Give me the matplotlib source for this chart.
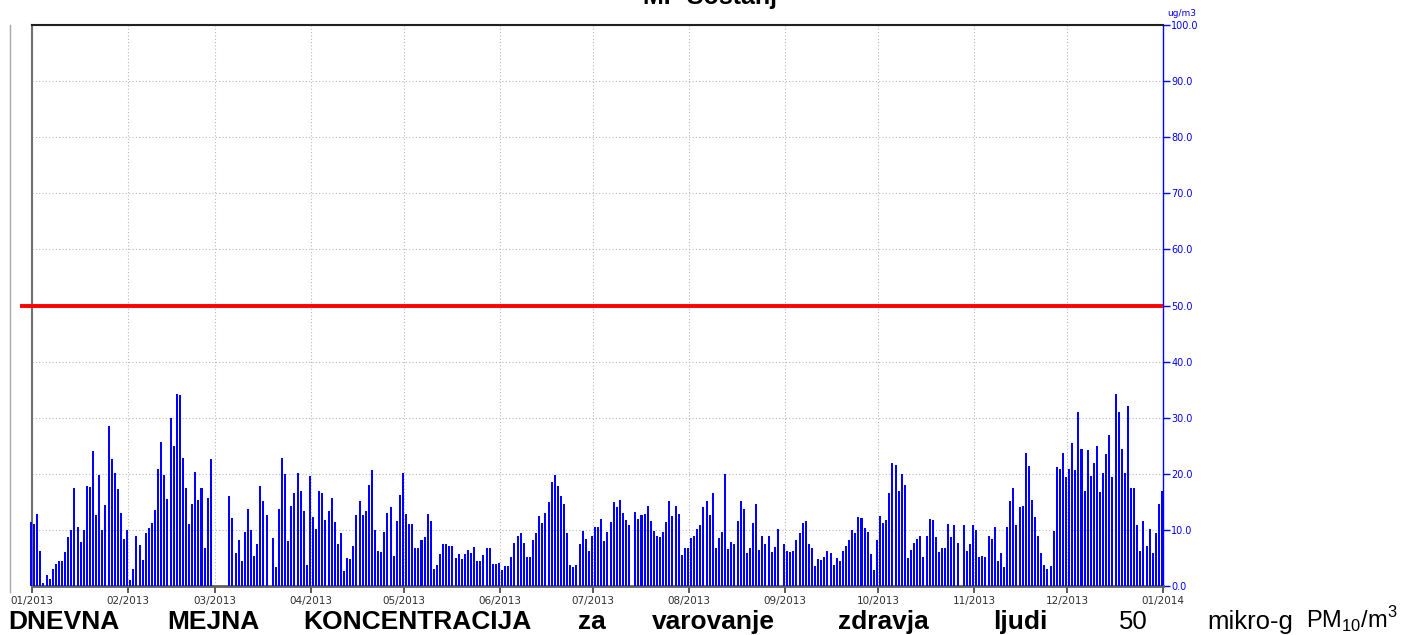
import numpy as np
import matplotlib
matplotlib.use("Agg")
import matplotlib.pyplot as plt
from matplotlib.lines import Line2D

plt.rcParams["mathtext.fontset"] = "custom"
plt.rcParams["mathtext.rm"] = "Liberation Sans"

# ---------------- data ----------------
title = "MP Šoštanj"
unit = "ug/m3"
limit_value = 50
month_labels = ["01/2013", "02/2013", "03/2013", "04/2013", "05/2013", "06/2013",
                "07/2013", "08/2013", "09/2013", "10/2013", "11/2013", "12/2013", "01/2014"]
month_starts = [0, 31, 59, 90, 120, 151, 181, 212, 243, 273, 304, 334, 365]
y_ticks = [0, 10, 20, 30, 40, 50, 60, 70, 80, 90, 100]

jan = [11.4, 11.1, 12.8, 6.3, 0.6, 2.0, 1.2, 3.0, 4.0, 4.5, 4.5, 6.0, 8.7, 10.0, 17.5, 10.5,
       7.8, 10.0, 17.8, 17.7, 24.1, 12.6, 19.7, 9.9, 14.4, 28.6, 22.6, 20.2, 17.3, 13.1, 8.4]
feb = [10.0, 1.0, 3.0, 8.9, 7.3, 4.7, 9.4, 10.4, 11.3, 13.6, 20.8, 25.7, 19.7, 15.5, 29.9,
       25.0, 34.2, 34.0, 22.8, 17.5, 11.1, 14.7, 20.4, 15.3, 17.4, 6.7, 15.7, 22.6]
mar = [None, None, None, None, None, 16.0, 12.2, 5.8, 8.2, 4.5, 9.6, 13.7, 9.9, 5.3, 7.4,
       17.9, 15.1, 12.6, None, 8.5, 3.3, 13.8, 22.9, 19.9, 8.0, 14.3, 16.5, 20.1, 17.0, 13.3, 3.7]
apr = [19.6, 12.3, 10.2, 17.0, 16.5, 11.8, 13.3, 15.6, 11.4, 7.5, 9.4, 2.6, 5.0, 4.8, 7.2,
       12.6, 15.1, 12.6, 13.3, 18.0, 20.6, 9.9, 6.3, 6.0, 9.6, 13.0, 14.1, 5.3, 11.6, 16.2]
may = [20.1, 12.8, 11.1, 11.1, 6.7, 6.8, 8.2, 8.7, 12.8, 11.6, 3.1, 3.8, 5.7, 7.4, 7.5, 7.2,
       7.2, 5.0, 5.7, 4.8, 5.7, 6.5, 5.8, 7.0, 4.5, 4.5, 5.5, 6.7, 6.7, 4.0, 4.0]
jun = [4.1, 2.9, 3.5, 3.5, 5.1, 7.7, 8.9, 9.4, 7.7, 5.1, 5.1, 8.2, 9.4, 12.5, 11.3, 13.1,
       14.9, 18.6, 19.7, 17.9, 16.0, 14.7, 9.4, 3.8, 3.3, 3.8, 7.4, 9.8, 8.4, 6.3]
jul = [9.0, 10.6, 10.6, 11.9, 8.0, 9.6, 11.4, 15.0, 14.1, 15.3, 13.0, 11.8, 10.8, None, 13.2,
       11.9, 12.6, 12.8, 14.3, 11.6, 9.8, 9.0, 8.7, 9.6, 11.4, 15.1, 12.5, 14.3, 12.8, 5.5, 6.7]
aug = [6.7, 8.6, 8.9, 10.1, 10.9, 14.1, 15.1, 12.6, 16.6, 6.8, 8.6, 9.6, 19.9, 6.6, 7.8, 7.5,
       11.6, 15.1, 13.7, 5.8, 6.7, 11.3, 14.7, 6.5, 8.9, 7.4, 9.0, 6.0, 6.9, 10.1, None]
sep = [7.4, 6.2, 6.0, 6.2, 8.2, 9.4, 11.3, 11.6, 7.5, 6.8, 3.5, 4.8, 4.6, 5.1, 6.3, 5.8, 3.7,
       5.0, 4.5, 6.3, 7.2, 8.2, 9.9, 9.4, 12.3, 12.1, 10.4, 9.6, 5.7, 2.8]
oct_ = [8.2, 12.5, 11.3, 11.8, 16.6, 22.0, 21.6, 17.0, 19.9, 18.0, 5.0, 6.5, 7.7, 8.4, 8.9,
        5.1, 9.0, 11.9, 11.8, 8.7, 6.0, 6.8, 6.8, 11.1, 8.7, 10.9, 7.7, None, 10.9, 6.2, 7.5]
nov = [10.8, 9.9, 5.1, 5.3, 5.1, 8.9, 8.4, 10.6, 4.5, 5.8, 3.3, 10.6, 15.1, 17.4, 10.8, 14.0,
       14.3, 23.7, 21.4, 15.3, 12.3, 9.0, 5.8, 3.7, 3.1, 3.5, 9.8, 21.3, 20.9, 23.7]
dec = [19.4, 20.8, 25.5, 20.6, 31.0, 24.5, 17.0, 24.3, 19.6, 22.0, 24.9, 16.8, 20.2, 23.5,
       27.0, 19.4, 34.2, 31.0, 24.5, 20.1, 32.1, 17.5, 17.5, 10.8, 6.3, 11.6, 7.2, 10.1, 5.8,
       9.4, 14.7]
jan2014 = [17.0]

footer_words = ["DNEVNA", "MEJNA", "KONCENTRACIJA", "za", "varovanje", "zdravja", "ljudi",
                "50", "mikro-g", r"PM$_{\mathregular{10}}$/m$^{\mathregular{3}}$"]
footer_bold = [True, True, True, True, True, True, True, False, False, False]

# ---------------- build ----------------
values = jan + feb + mar + apr + may + jun + jul + aug + sep + oct_ + nov + dec + jan2014
days = np.arange(len(values))
keep = np.array([v is not None for v in values])
xpos = days[keep] - 0.3
heights = np.array([v for v in values if v is not None], dtype=float)

W, H = 1410, 635
fig = plt.figure(figsize=(W / 100, H / 100), dpi=100)


def fx(px):
    return px / W


def fy(py):
    return 1 - py / H


ax = fig.add_axes([fx(32), fy(586), fx(1163) - fx(32), fy(25) - fy(586)])
ax.bar(xpos, heights, width=0.65, color="#0000ff", linewidth=0, clip_on=False, zorder=3)
ax.set_xlim(month_starts[0], month_starts[-1])
ax.set_ylim(y_ticks[0], y_ticks[-1])

# limit line (extends a bit left of the plot)
ax.plot([-12 / 1131, 1.0], [limit_value, limit_value], color="#ff0000", lw=2.8,
        transform=ax.get_yaxis_transform(), clip_on=False, zorder=5, solid_capstyle="butt")

ax.set_xticks(month_starts)
ax.set_xticklabels(month_labels)
ax.set_yticks(y_ticks)
ax.set_yticklabels([f"{v:.1f}" for v in y_ticks])
ax.grid(True, linestyle=(0, (1, 2)), color="#b8b8b8", linewidth=0.8, zorder=0)
ax.set_axisbelow(True)

ax.yaxis.tick_right()
ax.tick_params(axis="y", colors="#0000ff", labelsize=7, length=5, width=1, pad=1)
ax.tick_params(axis="x", colors="#404040", labelcolor="#303030", labelsize=7.5,
               length=5, width=1.2, pad=2)

ax.spines["right"].set_color("#0000ff")
ax.spines["right"].set_linewidth(1.0)
ax.spines["top"].set_color("#202020")
ax.spines["top"].set_linewidth(1.5)
ax.spines["left"].set_color("#707070")
ax.spines["left"].set_linewidth(1.5)
ax.spines["bottom"].set_color("#606060")
ax.spines["bottom"].set_linewidth(2.0)

# units text
fig.text(fx(1167), fy(16), unit, color="#0000ff", fontsize=6.5, va="baseline", ha="left")

# title (partially cut at top, as in the source image)
fig.text(fx(710), fy(4), title, ha="center", va="baseline", fontsize=18,
         fontweight="bold", family="Liberation Sans")

# left vertical frame line
fig.add_artist(Line2D([fx(9.5), fx(9.5)], [fy(25), fy(592)], color="#a8a8a8", lw=1))

# footer text
footer_left = [8, 167, 303, 578, 652, 838, 993, 1119, 1207, 1306]
footer_size = [19, 19, 19, 19, 19, 19, 19, 18.5, 18.5, 17]
for word, left, bold, size in zip(footer_words, footer_left, footer_bold, footer_size):
    fig.text(fx(left), fy(629), word, ha="left", va="baseline", fontsize=size,
             fontweight="bold" if bold else "normal", family="Liberation Sans", color="black")

fig.savefig("out.png", dpi=100)
